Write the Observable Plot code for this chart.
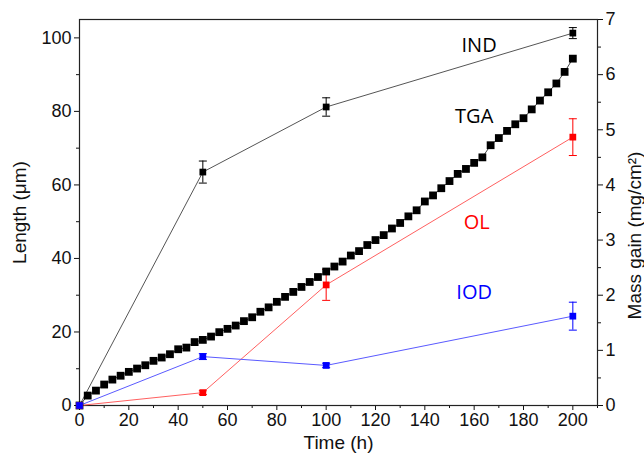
<!DOCTYPE html>
<html><head><meta charset="utf-8">
<script src="https://cdn.jsdelivr.net/npm/d3@7"></script>
<script src="https://cdn.jsdelivr.net/npm/@observablehq/plot@0.6"></script>
<style>body{margin:0;background:#fff}</style>
</head><body><div id="chart"></div>
<script>
// Length measurements (µm) vs time (h)
const times = [0, 50, 100, 200];
const indLength = [0, 63.5, 81.2, 101.3];
const indErr = [0, 3.0, 2.5, 1.5];
const olLength = [0, 3.5, 32.8, 73.0];
const olErr = [0, 0.5, 4.2, 5.0];
const iodLength = [0, 13.3, 10.9, 24.3];
const iodErr = [0, 0.8, 0.6, 3.8];

// TGA mass gain (mg/cm²) vs time (h)
const tgaTime = [0,3.33,6.67,10,13.33,16.67,20,23.33,26.67,30,33.33,36.67,40,43.33,46.67,50,53.33,56.67,60,63.33,66.67,70,73.33,76.67,80,83.33,86.67,90,93.33,96.67,100,103.33,106.67,110,113.33,116.67,120,123.33,126.67,130,133.33,136.67,140,143.33,146.67,150,153.33,156.67,160,163.33,166.67,170,173.33,176.67,180,183.33,186.67,190,193.33,196.67,200];
const tgaMass = [0,0.18,0.27,0.38,0.47,0.54,0.61,0.67,0.73,0.81,0.87,0.93,1.02,1.05,1.15,1.19,1.25,1.33,1.39,1.45,1.53,1.60,1.70,1.78,1.88,1.97,2.06,2.15,2.24,2.33,2.43,2.52,2.61,2.72,2.80,2.91,3.00,3.09,3.21,3.31,3.43,3.54,3.70,3.81,3.94,4.07,4.20,4.29,4.40,4.50,4.72,4.85,4.98,5.10,5.21,5.37,5.53,5.68,5.84,6.05,6.29];

// Axis ticks
const xTicks = [0,20,40,60,80,100,120,140,160,180,200];
const xMinor = [10,30,50,70,90,110,130,150,170,190,210];
const yTicks = [0,20,40,60,80,100];
const yMinor = [10,30,50,70,90];
const massTicks = [0,1,2,3,4,5,6,7];
const massMinor = [0.5,1.5,2.5,3.5,4.5,5.5,6.5];

// Series labels
const seriesNames = ["IND", "TGA", "OL", "IOD"];
const labelTime = [162, 160, 161, 160];
const labelLength = [98, 78.5, 49.7, 30.7];
const labelColors = ["#000000", "#000000", "#ff0000", "#0000ff"];

const massToLength = 15; // right axis 0–7 spans left axis 0–105

const mk = (ys, es) => times.map((t, i) => ({t, y: ys[i], e: es[i]}));
const ind = mk(indLength, indErr);
const ol = mk(olLength, olErr);
const iod = mk(iodLength, iodErr);
const tga = tgaTime.map((t, i) => ({t, y: tgaMass[i] * massToLength}));
const labels = seriesNames.map((n, i) => ({n, t: labelTime[i], y: labelLength[i], c: labelColors[i]}));

const cap = {draw(ctx, size) { const h = Math.sqrt(size / Math.PI); ctx.moveTo(-h, 0); ctx.lineTo(h, 0); }};

function errorMarks(data, color) {
  const d = data.filter(v => v.e > 0);
  return [
    Plot.ruleX(d, {x: "t", y1: v => v.y - v.e, y2: v => v.y + v.e, stroke: color, strokeWidth: 1}),
    Plot.dot(d, {x: "t", y: v => v.y - v.e, symbol: cap, r: 4, stroke: color, strokeWidth: 1, fill: "none"}),
    Plot.dot(d, {x: "t", y: v => v.y + v.e, symbol: cap, r: 4, stroke: color, strokeWidth: 1, fill: "none"})
  ];
}

const axisFont = 18;
const chart = Plot.plot({
  width: 644, height: 466,
  marginLeft: 79, marginRight: 47, marginTop: 19, marginBottom: 61,
  style: {fontFamily: "'Liberation Sans', Arial, sans-serif", background: "#fff", color: "#111"},
  x: {domain: [0, 210]},
  y: {domain: [0, 105]},
  marks: [
    Plot.axisX({ticks: xTicks, tickSize: 5, tickPadding: 3, fontSize: axisFont, label: null}),
    Plot.axisX({ticks: xMinor, tickSize: 3, tickFormat: () => "", label: null}),
    Plot.axisY({ticks: yTicks, tickSize: 5, tickPadding: 3, fontSize: axisFont, label: null}),
    Plot.axisY({ticks: yMinor, tickSize: 3, tickFormat: () => "", label: null}),
    Plot.axisY(massTicks.map(v => v * massToLength), {anchor: "right", tickSize: 5, tickPadding: 3, fontSize: axisFont, tickFormat: d => d / massToLength, label: null}),
    Plot.axisY(massMinor.map(v => v * massToLength), {anchor: "right", tickSize: 3, tickFormat: () => "", label: null}),
    Plot.frame({stroke: "#222", strokeWidth: 1.2}),
    // lines
    Plot.line(ind, {x: "t", y: "y", stroke: "#555", strokeWidth: 1}),
    Plot.line(ol, {x: "t", y: "y", stroke: "#ff6060", strokeWidth: 1}),
    Plot.line(iod, {x: "t", y: "y", stroke: "#5a5aff", strokeWidth: 1}),
    Plot.line(tga, {x: "t", y: "y", stroke: "#444", strokeWidth: 1}),
    ...errorMarks(ind, "#000"),
    ...errorMarks(ol, "#ff0000"),
    ...errorMarks(iod, "#0000ff"),
    Plot.dot(tga, {x: "t", y: "y", symbol: "square", r: 4.4, fill: "#000", stroke: "none"}),
    Plot.dot(ind, {x: "t", y: "y", symbol: "square", r: 3.8, fill: "#000"}),
    Plot.dot(ol, {x: "t", y: "y", symbol: "square", r: 3.8, fill: "#ff0000"}),
    Plot.dot(iod, {x: "t", y: "y", symbol: "square", r: 3.8, fill: "#0000ff"}),
    Plot.text(labels, {x: "t", y: "y", text: "n", fill: "c", fontSize: 20, fontFamily: "'Open Sans', sans-serif", textAnchor: "middle"}),
    // axis titles
    Plot.text(["Time (h)"], {frameAnchor: "bottom", lineAnchor: "middle", textAnchor: "middle", dy: 37, fontSize: 19, fill: "#111"}),
    Plot.text(["Length (\u03bcm)"], {frameAnchor: "left", lineAnchor: "middle", textAnchor: "middle", dx: -60, rotate: -90, fontSize: 19, fill: "#111"}),
    Plot.text(["Mass gain (mg/cm\u00b2)"], {frameAnchor: "right", lineAnchor: "middle", textAnchor: "middle", dx: 37, dy: 23, rotate: -90, fontSize: 19, fill: "#111"})
  ]
});
document.getElementById("chart").appendChild(chart);
</script>
</body></html>
